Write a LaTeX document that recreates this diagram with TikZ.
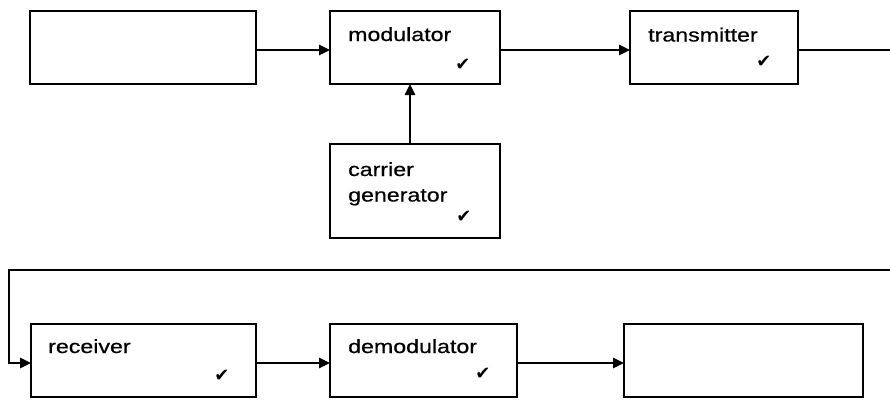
\documentclass[tikz,border=0pt]{standalone}
\usepackage{fontspec}
\setmainfont{Liberation Sans}[FakeStretch=1.22,FakeBold=0.6]
\newfontfamily\checkfont{DejaVu Sans}
\usetikzlibrary{arrows.meta}
\begin{document}
\begin{tikzpicture}[x=1pt,y=-1pt,
  box/.style={draw,line width=2.5pt,anchor=north west,inner sep=0pt,outer sep=0pt},
  lbl/.style={anchor=base west,inner sep=0pt,font=\fontsize{19}{25}\selectfont},
  chk/.style={inner sep=0pt,font=\checkfont\fontsize{18}{18}\selectfont},
  conn/.style={line width=2.5pt},
  arr/.style={line width=2.5pt,-{Triangle[length=11pt,width=10pt]}}]
\useasboundingbox (0,0) rectangle (890,399);
% boxes
\node[box,minimum width=226pt,minimum height=73pt] (src) at (30,11) {};
\node[box,minimum width=170pt,minimum height=73pt] (mod) at (330,11) {};
\node[box,minimum width=168pt,minimum height=73pt] (tx) at (630,11) {};
\node[box,minimum width=170pt,minimum height=94pt] (car) at (330,144) {};
\node[box,minimum width=225pt,minimum height=73pt] (rx) at (31,324) {};
\node[box,minimum width=187pt,minimum height=73pt] (dem) at (330,324) {};
\node[box,minimum width=239pt,minimum height=73pt] (out) at (624,324) {};
% labels
\node[lbl] (modt) at (348,41) {modulator};
\node[lbl] (txt) at (648,41.5) {transmitter};
\node[lbl] (cart1) at (348,176) {carrier};
\node[lbl] (cart2) at (348,201.5) {generator};
\node[lbl] (rxt) at (48,353) {receiver};
\node[lbl] (demt) at (348,353) {demodulator};
% checks
\node[chk] (modc) at (463,65) {✔};
\node[chk] (txc) at (764,62) {✔};
\node[chk] (carc) at (464,217) {✔};
\node[chk] (rxc) at (222,376) {✔};
\node[chk] (demc) at (483,374) {✔};
% connectors
\draw[arr] ([yshift=-2.5pt]src.east) -- ([yshift=-2.5pt]mod.west);
\draw[arr] ([yshift=-2.5pt]mod.east) -- ([yshift=-2.5pt]tx.west);
\draw[arr] ([xshift=-5pt]car.north) -- ([xshift=-5pt]mod.south);
\coordinate (ea) at (892,50);
\coordinate (eb) at (892,270);
\coordinate (lc) at (9,270);
\draw[conn] ([yshift=-2.5pt]tx.east) -- (ea);
\draw[arr] (eb) -- (lc) |- ([yshift=-2.5pt]rx.west);
\draw[arr] ([yshift=-2.5pt]rx.east) -- ([yshift=-2.5pt]dem.west);
\draw[arr] ([yshift=-2.5pt]dem.east) -- ([yshift=-2.5pt]out.west);
\end{tikzpicture}
\end{document}
